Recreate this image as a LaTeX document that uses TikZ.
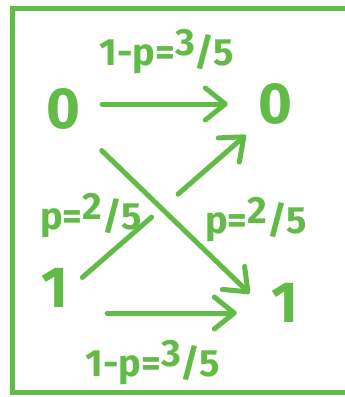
\documentclass[tikz,border=0pt]{standalone}
\usepackage{fontspec}
\setmainfont{Fira Sans}
\usepackage{tikz}
\usetikzlibrary{arrows.meta}
\definecolor{pen}{RGB}{98,187,70}
\newcommand{\hfr}[2]{\raisebox{0.5ex}{#1}/#2}

\begin{document}
\begin{tikzpicture}[x=1pt, y=-1pt,
  bit/.style={text=pen, inner sep=0pt, minimum width=30pt, minimum height=40pt, font={\fontsize{58}{58}\selectfont\bfseries}},
  prob/.style={text=pen, inner sep=0pt, font={\fontsize{38}{38}\selectfont\bfseries}},
  chan/.style={draw=pen, line width=5pt, line cap=round, -{Straight Barb[length=20pt, width=32pt, line width=5pt, round]}},
  frame/.style={draw=pen, line width=5pt}
]
\useasboundingbox (0,0) rectangle (345,397);
\draw[frame] (345,8) -- (12,8) -- (12,392) -- (345,392);
\node[bit] (s0) at (63,109) {0};
\node[bit] (t0) at (275,104) {0};
\node[bit] (s1) at (55,288) {1};
\node[bit] (t1) at (285,303) {1};
\draw[chan, shorten <=22pt, shorten >=30pt] ([yshift=5pt]s0.east) -- (t0.west);
\draw[chan, shorten <=37pt, shorten >=33pt] ([yshift=-25pt]s1.east) -- ([yshift=-10pt]t1.west);
\draw[chan, shorten <=16pt, shorten >=16pt, dash pattern=on 92pt off 35pt on 400pt] (s1.east) -- (t0.south west);
\draw[chan, shorten <=30pt, shorten >=28pt] (s0.south east) -- ([yshift=-10pt]t1.west);
\node[prob] (ptop) at (167,52) {1-p=\hfr{3}{5}};
\node[prob] (pleft) at (91,216) {p=\hfr{2}{5}};
\node[prob] (pright) at (256,220) {p=\hfr{2}{5}};
\node[prob] (pbot) at (153,363) {1-p=\hfr{3}{5}};
\end{tikzpicture}
\end{document}
